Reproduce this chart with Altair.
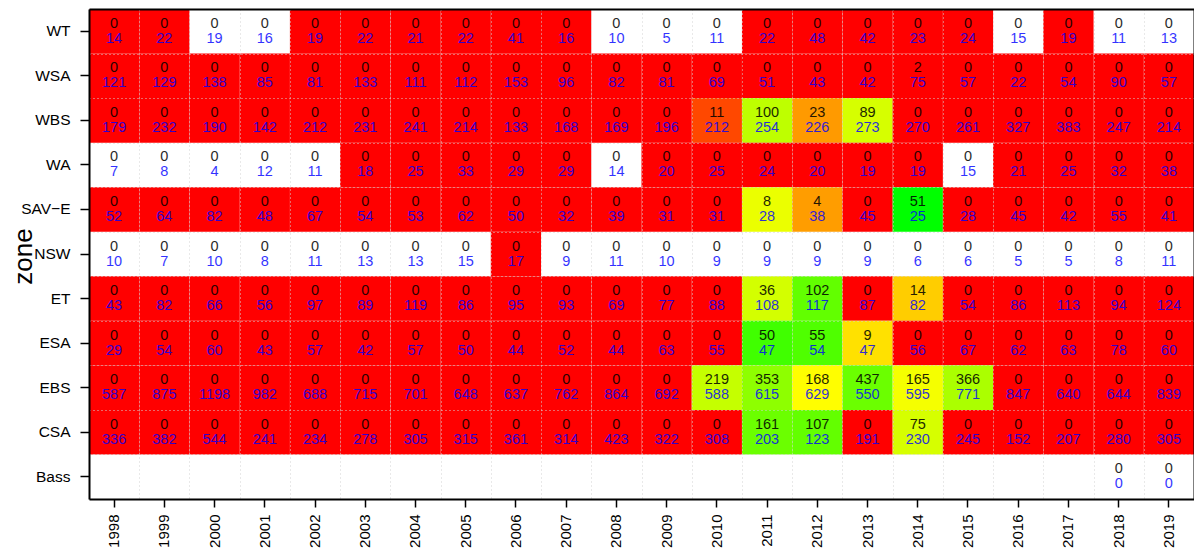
import altair as alt
import pandas as pd

years = list(range(1998, 2020))
zones = ["WT", "WSA", "WBS", "WA", "SAV\u2212E", "NSW", "ET", "ESA", "EBS", "CSA", "Bass"]

# top (black) number in each cell
counts = {
    "WT":  [0] * 22,
    "WSA": [0, 0, 0, 0, 0, 0, 0, 0, 0, 0, 0, 0, 0, 0, 0, 0, 2, 0, 0, 0, 0, 0],
    "WBS": [0, 0, 0, 0, 0, 0, 0, 0, 0, 0, 0, 0, 11, 100, 23, 89, 0, 0, 0, 0, 0, 0],
    "WA":  [0] * 22,
    "SAV\u2212E": [0, 0, 0, 0, 0, 0, 0, 0, 0, 0, 0, 0, 0, 8, 4, 0, 51, 0, 0, 0, 0, 0],
    "NSW": [0] * 22,
    "ET":  [0, 0, 0, 0, 0, 0, 0, 0, 0, 0, 0, 0, 0, 36, 102, 0, 14, 0, 0, 0, 0, 0],
    "ESA": [0, 0, 0, 0, 0, 0, 0, 0, 0, 0, 0, 0, 0, 50, 55, 9, 0, 0, 0, 0, 0, 0],
    "EBS": [0, 0, 0, 0, 0, 0, 0, 0, 0, 0, 0, 0, 219, 353, 168, 437, 165, 366, 0, 0, 0, 0],
    "CSA": [0, 0, 0, 0, 0, 0, 0, 0, 0, 0, 0, 0, 0, 161, 107, 0, 75, 0, 0, 0, 0, 0],
    "Bass": [None] * 20 + [0, 0],
}

# bottom (blue) number in each cell
totals = {
    "WT":  [14, 22, 19, 16, 19, 22, 21, 22, 41, 16, 10, 5, 11, 22, 48, 42, 23, 24, 15, 19, 11, 13],
    "WSA": [121, 129, 138, 85, 81, 133, 111, 112, 153, 96, 82, 81, 69, 51, 43, 42, 75, 57, 22, 54, 90, 57],
    "WBS": [179, 232, 190, 142, 212, 231, 241, 214, 133, 168, 169, 196, 212, 254, 226, 273, 270, 261, 327, 383, 247, 214],
    "WA":  [7, 8, 4, 12, 11, 18, 25, 33, 29, 29, 14, 20, 25, 24, 20, 19, 19, 15, 21, 25, 32, 38],
    "SAV\u2212E": [52, 64, 82, 48, 67, 54, 53, 62, 50, 32, 39, 31, 31, 28, 38, 45, 25, 28, 45, 42, 55, 41],
    "NSW": [10, 7, 10, 8, 11, 13, 13, 15, 17, 9, 11, 10, 9, 9, 9, 9, 6, 6, 5, 5, 8, 11],
    "ET":  [43, 82, 66, 56, 97, 89, 119, 86, 95, 93, 69, 77, 88, 108, 117, 87, 82, 54, 86, 113, 94, 124],
    "ESA": [29, 54, 60, 43, 57, 42, 57, 50, 44, 52, 44, 63, 55, 47, 54, 47, 56, 67, 62, 63, 78, 60],
    "EBS": [587, 875, 1198, 982, 688, 715, 701, 648, 637, 762, 864, 692, 588, 615, 629, 550, 595, 771, 847, 640, 644, 839],
    "CSA": [336, 382, 544, 241, 234, 278, 305, 315, 361, 314, 423, 322, 308, 203, 123, 191, 230, 245, 152, 207, 280, 305],
    "Bass": [None] * 20 + [0, 0],
}

# 1 = coloured cell, 0 = blank (white) cell
shaded = {
    "WT":  [1, 1, 0, 0, 1, 1, 1, 1, 1, 1, 0, 0, 0, 1, 1, 1, 1, 1, 0, 1, 0, 0],
    "WSA": [1] * 22,
    "WBS": [1] * 22,
    "WA":  [0, 0, 0, 0, 0, 1, 1, 1, 1, 1, 0, 1, 1, 1, 1, 1, 1, 0, 1, 1, 1, 1],
    "SAV\u2212E": [1] * 22,
    "NSW": [0, 0, 0, 0, 0, 0, 0, 0, 1, 0, 0, 0, 0, 0, 0, 0, 0, 0, 0, 0, 0, 0],
    "ET":  [1] * 22,
    "ESA": [1] * 22,
    "EBS": [1] * 22,
    "CSA": [1] * 22,
    "Bass": [0] * 22,
}

rows = []
for z in zones:
    for i, yr in enumerate(years):
        t = totals[z][i]
        if t is None:
            continue
        c = counts[z][i]
        ratio = (c / t) if t else 0.0
        rows.append({"zone": z, "year": yr, "count": c, "total": t,
                     "ratio": ratio, "shaded": shaded[z][i]})
df = pd.DataFrame(rows)
df_rect = df[df["shaded"] == 1]

W, H = 1105, 490
FONT = "Liberation Sans"

xs = alt.Scale(domain=years, paddingInner=0, paddingOuter=0)
ys = alt.Scale(domain=zones, paddingInner=0, paddingOuter=0)

stops = [0, 0.03, 0.05, 0.1, 0.17, 0.19, 0.27, 0.29, 0.33, 0.39, 0.48, 0.58, 0.8, 1.0, 1.06, 2.0]
cols = ["#FF0000", "#FF0000", "#FF4500", "#FF9900", "#FFCC00", "#FFE000", "#FFFF00", "#E5FF00",
        "#D4FF00", "#BFFF00", "#AAFF00", "#8CFF00", "#6AFF00", "#55FF00", "#40FF00", "#00FF00"]

rect = alt.Chart(df_rect).mark_rect().encode(
    x=alt.X("year:O", scale=xs, axis=alt.Axis(
        orient="bottom", title=None, labelAngle=-90, labelFont=FONT, labelFontSize=15,
        labelColor="black", labelPadding=7, tickSize=8, tickColor="black", tickWidth=1.5,
        domainColor="black", domainWidth=2, grid=False, zindex=2)),
    y=alt.Y("zone:N", scale=ys, axis=alt.Axis(
        orient="left", title="zone", titleFont=FONT, titleFontSize=26,
        titleFontWeight="normal", titleColor="black", titleAngle=-90,
        titleX=-58, titleY=H / 2 + 2, titleAlign="center", titleBaseline="alphabetic",
        labelFont=FONT, labelFontSize=15.5, labelColor="black", labelPadding=10,
        tickSize=9, tickColor="black", tickWidth=1.5,
        domainColor="black", domainWidth=2, grid=False, zindex=2)),
    color=alt.Color("ratio:Q", scale=alt.Scale(domain=stops, range=cols, clamp=True,
                                               interpolate="rgb"), legend=None),
)

top_txt = alt.Chart(df).mark_text(font=FONT, fontSize=14.5, dy=-7.5, color="black",
                                  opacity=0.85).encode(
    x=alt.X("year:O", scale=xs, axis=alt.Axis(
        orient="top", title=None, labels=False, ticks=False, domain=True,
        domainColor="black", domainWidth=2, grid=True, gridColor="lightgray",
        gridDash=[1, 3], gridWidth=1, tickBand="extent", zindex=1)),
    y=alt.Y("zone:N", scale=ys, axis=alt.Axis(
        orient="right", title=None, labels=False, ticks=False, domain=True,
        domainColor="black", domainWidth=2,
        grid=True, gridColor="lightgray", gridDash=[1, 3], gridWidth=1,
        tickBand="extent", zindex=1)),
    text=alt.Text("count:Q"),
)

bot_txt = alt.Chart(df).mark_text(font=FONT, fontSize=14.5, dy=7.5, color="blue",
                                  opacity=0.8).encode(
    x=alt.X("year:O", scale=xs, axis=None),
    y=alt.Y("zone:N", scale=ys, axis=None),
    text=alt.Text("total:Q"),
)

chart = alt.layer(rect, top_txt, bot_txt).properties(
    width=W, height=H,
    autosize=alt.AutoSizeParams(type="none"),
    padding={"left": 81, "top": 1, "right": 0, "bottom": 49},
    background="white",
).configure_view(stroke=None)

chart.save("out.html", embed_options={"renderer": "svg", "actions": False})
